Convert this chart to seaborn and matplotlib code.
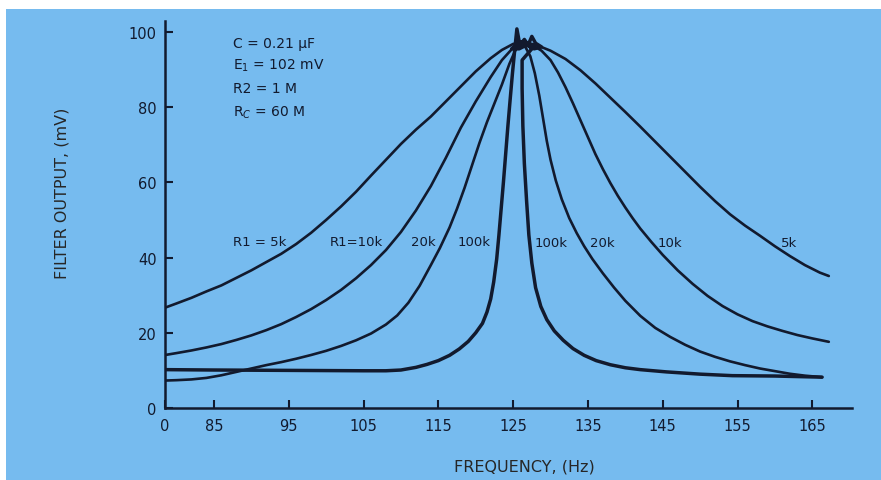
import numpy as np
import pandas as pd
import matplotlib.pyplot as plt
import seaborn as sns
from matplotlib.patches import Rectangle

# --- values: frequency (Hz) vs filter output (mV) ---
freq_5k = [78.5, 80, 82, 84, 86, 88, 90, 92, 94, 96, 98, 100, 102, 104, 106, 108, 110, 112, 114,
           116, 118, 120, 122, 123.5, 125, 126.5, 128, 130, 132, 134, 136, 138, 140, 142, 144,
           146, 148, 150, 152, 154, 156, 158, 160, 162, 164, 166, 167.2]
mv_5k = [26.7, 27.8, 29.3, 31.0, 32.6, 34.6, 36.6, 38.8, 41.0, 43.6, 46.6, 50.0, 53.6, 57.5,
         61.8, 66.0, 70.2, 74.0, 77.5, 81.5, 85.5, 89.5, 93.0, 95.2, 96.8, 97.2, 96.6, 95.0,
         92.8, 89.8, 86.3, 82.5, 78.7, 74.8, 70.8, 66.8, 62.8, 58.8, 55.0, 51.5, 48.5, 45.8,
         43.0, 40.4, 38.0, 36.0, 35.1]

freq_10k = [78.5, 80, 82, 84, 86, 88, 90, 92, 94, 96, 98, 100, 102, 104, 106, 108, 110, 112, 114,
            116, 118, 120, 122, 123.5, 125, 126.3, 127.5, 128.8, 130, 131, 132, 133, 134, 135,
            136, 137, 138, 139, 140, 141, 142, 143.5, 145, 147, 149, 151, 153, 155, 157, 159,
            161, 163, 165, 167.2]
mv_10k = [14.1, 14.6, 15.3, 16.1, 17.0, 18.1, 19.3, 20.7, 22.3, 24.2, 26.3, 28.7, 31.4, 34.5,
          38.0, 42.0, 46.8, 52.5, 59.0, 66.5, 74.5, 81.5, 88.0, 92.5, 95.8, 97.0, 96.6, 95.0,
          92.5, 89.2, 85.3, 81.0, 76.5, 72.0, 67.5, 63.5, 59.8, 56.4, 53.3, 50.4, 47.7, 44.1,
          40.7, 36.6, 33.0, 29.8, 27.1, 24.9, 23.1, 21.7, 20.5, 19.4, 18.5, 17.6]

freq_20k = [78.5, 80, 82, 84, 86, 88, 90, 92, 94, 96, 98, 100, 102, 104, 106, 108, 109.5, 111,
            112.5, 114, 115.2, 116.5, 117.5, 118.5, 119.5, 120.5, 121.5, 122.5, 123.5, 124.5,
            125.5, 126.5, 127.3, 127.9, 128.5, 129.0, 129.5, 130.0, 130.7, 131.5, 132.5, 133.5,
            134.5, 135.6, 137.0, 138.5, 140, 142, 144, 146, 148, 150, 152, 154, 156, 158, 160,
            162, 164, 166.3]
mv_20k = [7.3, 7.4, 7.6, 8.0, 8.7, 9.6, 10.5, 11.4, 12.2, 13.1, 14.1, 15.2, 16.5, 18.0, 19.8,
          22.2, 24.6, 28.0, 32.5, 38.0, 42.5, 48.0, 53.0, 58.5, 64.5, 70.5, 76.0, 81.0, 86.0,
          91.5, 96.0, 96.5, 93.5, 89.0, 83.0, 77.0, 71.0, 66.0, 60.5, 55.5, 50.5, 46.5, 43.0,
          39.6, 35.8, 32.0, 28.5, 24.5, 21.3, 18.9, 16.8, 15.0, 13.6, 12.4, 11.4, 10.5, 9.8,
          9.1, 8.6, 8.2]

# the 100k trace is noisy and scribbles around the peak before coming down
freq_100k = [78.5, 85, 95, 105, 108, 110, 112, 113.5, 115, 116.5, 117.8, 119, 120, 120.9, 121.5,
             122, 122.4, 122.8, 123.1, 123.4, 123.7, 124.0, 124.3, 124.6, 124.9, 125.2, 125.5,
             125.9, 126.5, 127.0, 127.5, 128.0, 128.8, 127.8, 126.8, 125.8, 124.8, 125.6, 126.6,
             127.5, 126.2, 126.2, 126.3, 126.5, 126.8, 127.1, 127.5, 128.0, 128.7, 129.5, 130.5,
             131.7, 133.0, 134.5, 136.1, 138, 140, 142, 145.5, 150, 154.3, 160, 166.3]
mv_100k = [10.2, 10.1, 10.0, 9.9, 9.9, 10.1, 10.8, 11.6, 12.6, 14.0, 15.7, 17.7, 20.0, 22.5,
           25.5, 29.0, 33.5, 39.6, 46.0, 53.0, 60.0, 67.5, 75.0, 82.0, 88.8, 95.0, 100.8,
           96.5, 98.0, 96.5, 98.8, 97.0, 96.0, 95.5, 96.5, 95.5, 95.5, 97.0, 97.5, 95.5,
           92.5, 85.0, 75.0, 65.0, 55.0, 46.0, 38.5, 32.0, 27.0, 23.5, 20.5, 18.0, 15.8, 14.0,
           12.6, 11.5, 10.7, 10.2, 9.6, 9.0, 8.6, 8.5, 8.2]

freq_ticks = [85, 95, 105, 115, 125, 135, 145, 155, 165]
mv_ticks = [0, 20, 40, 60, 80, 100]

curve_labels = ["R1 = 5k", "R1=10k", "20k", "100k", "100k", "20k", "10k", "5k"]
label_freq = [91.1, 104.1, 113.0, 119.8, 130.1, 136.9, 145.9, 161.9]
label_mv = [44.4, 44.4, 44.4, 44.4, 44.1, 44.1, 44.1, 44.1]

params = ["C = 0.21 \u03bcF", "E$_1$ = 102 mV", "R2 = 1 M", "R$_C$ = 60 M"]
params_mv = [97.1, 91.2, 85.1, 78.7]

# --- long-form table ---
curves = {"5k": (freq_5k, mv_5k), "10k": (freq_10k, mv_10k),
          "20k": (freq_20k, mv_20k), "100k": (freq_100k, mv_100k)}
df = pd.concat([pd.DataFrame({"freq": f, "mv": v, "R1": name}) for name, (f, v) in curves.items()],
               ignore_index=True)

blue = "#76bbef"
ink = "#121a2e"

sns.set_style("ticks", rc={"axes.facecolor": blue, "axes.edgecolor": ink,
                           "xtick.color": ink, "ytick.color": ink, "text.color": ink})
plt.rcParams["font.family"] = ["DejaVu Sans"]

fig = plt.figure(figsize=(8.81, 4.81), dpi=100)
fig.patch.set_facecolor("white")
# blue card with a thin white margin at the top and left
fig.patches.append(Rectangle((6 / 881, 0), 1, 1 - 10 / 481, transform=fig.transFigure,
                             facecolor=blue, edgecolor="none", zorder=-10))

x0 = 78.46
ax = fig.add_axes([165 / 881, 1 - 409 / 481, 687 / 881, 387 / 481])
ax.patch.set_alpha(0)

for name in curves:
    sub = df[df["R1"] == name]
    sns.lineplot(data=sub, x="freq", y="mv", sort=False, estimator=None, color=ink,
                 lw=2.5 if name == "100k" else 1.9, ax=ax, legend=False)

ax.set_xlim(x0, 170.3)
ax.set_ylim(0, 102.9)
ax.set_xticks([x0] + freq_ticks)
ax.set_xticklabels(["0"] + [str(t) for t in freq_ticks])
ax.set_yticks(mv_ticks)
ax.tick_params(axis="both", direction="in", length=6, width=1.5, labelsize=10.5)
ax.tick_params(axis="y", pad=6)
ax.tick_params(axis="x", pad=7)
for side in ["top", "right"]:
    ax.spines[side].set_visible(False)
for side in ["left", "bottom"]:
    ax.spines[side].set_linewidth(1.8)

ax.set_xlabel("FREQUENCY, (Hz)", fontsize=11.5)
ax.set_ylabel("FILTER OUTPUT, (mV)", fontsize=11.5)
ax.xaxis.label.set_va("center")
ax.yaxis.label.set_va("center")
ax.xaxis.set_label_coords(0.5226, -0.150)
ax.yaxis.set_label_coords(-0.150, 0.558)

for txt, f, v in zip(curve_labels, label_freq, label_mv):
    ax.text(f, v, txt, ha="center", va="center", fontsize=9.5)
for txt, v in zip(params, params_mv):
    ax.text(87.5, v, txt, ha="left", va="center", fontsize=10)

fig.savefig("out.png", dpi=100)
